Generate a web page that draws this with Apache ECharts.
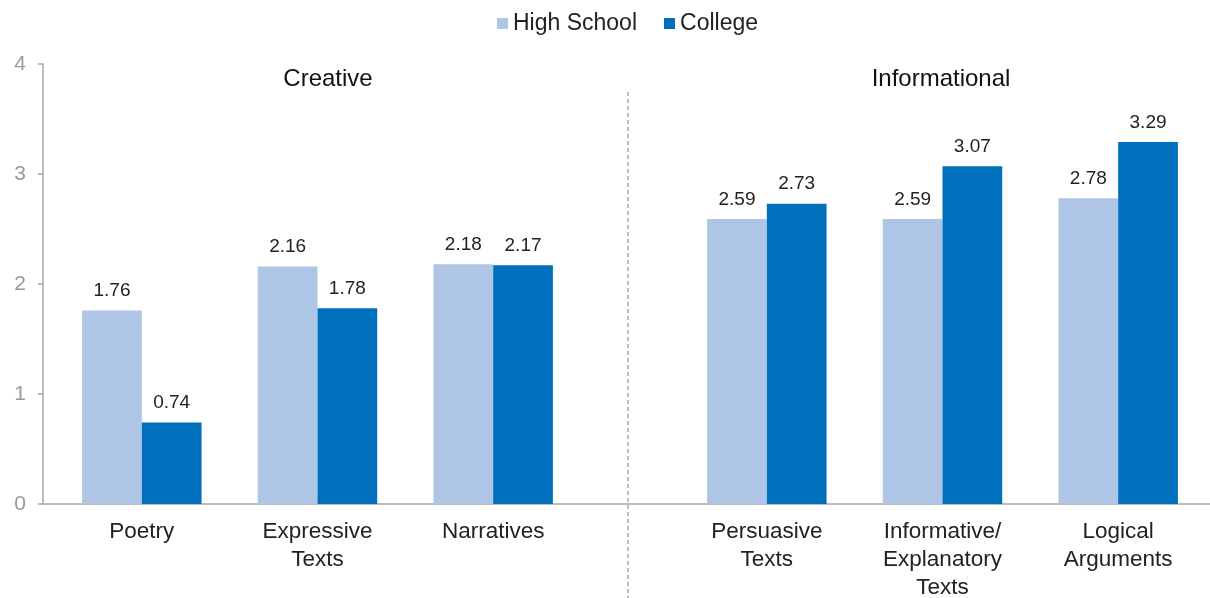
<!DOCTYPE html>
<html>
<head>
<meta charset="utf-8">
<script src="https://cdn.jsdelivr.net/npm/echarts@6/dist/echarts.min.js"></script>
<style>
html,body{margin:0;padding:0;background:#fff;}
#chart{width:1210px;height:598px;}
</style>
</head>
<body>
<div id="chart"></div>
<script>
const groupTitles = ['Creative', 'Informational'];
const creativeCategories = ['Poetry', 'Expressive\nTexts', 'Narratives'];
const informationalCategories = ['Persuasive\nTexts', 'Informative/\nExplanatory\nTexts', 'Logical\nArguments'];
const seriesNames = ['High School', 'College'];
const highSchoolCreative = [1.76, 2.16, 2.18];
const collegeCreative = [0.74, 1.78, 2.17];
const highSchoolInformational = [2.59, 2.59, 2.78];
const collegeInformational = [2.73, 3.07, 3.29];
const yTicks = [0, 1, 2, 3, 4];

const FONT = '"Liberation Sans", Arial, sans-serif';
const colors = ['#AFC5E6', '#0070BC'];
const chart = echarts.init(document.getElementById('chart'));

function barSeries(name, data, idx, color) {
  return {
    name: name, type: 'bar', xAxisIndex: idx, yAxisIndex: idx,
    data: data, barGap: '0%', barCategoryGap: '32%',
    itemStyle: {color: color},
    label: {show: true, position: 'top', distance: 10, fontSize: 19, color: '#222', fontFamily: FONT,
      formatter: p => p.value.toFixed(2)}
  };
}

const catAxis = (idx, cats) => ({
  type: 'category', gridIndex: idx, data: cats,
  axisLine: {show: false}, axisTick: {show: false},
  axisLabel: {fontSize: 22.5, color: '#222', fontFamily: FONT, lineHeight: 28, margin: 14, interval: 0}
});
const hiddenY = idx => ({type: 'value', gridIndex: idx, min: 0, max: 4, interval: 1, show: false, splitLine: {show: false}});

chart.setOption({
  animation: false,
  color: colors,
  legend: {
    data: seriesNames, top: 7, left: 492, itemWidth: 11, itemHeight: 11, itemGap: 27,
    icon: 'rect', textStyle: {fontSize: 23, color: '#222', fontFamily: FONT}
  },
  title: [
    {text: groupTitles[0], left: 323, top: 62, textAlign: 'center', textStyle: {fontSize: 24, fontWeight: 'normal', color: '#111', fontFamily: FONT}},
    {text: groupTitles[1], left: 936, top: 62, textAlign: 'center', textStyle: {fontSize: 24, fontWeight: 'normal', color: '#111', fontFamily: FONT}}
  ],
  grid: [
    {left: 43, right: 0, top: 64, bottom: 94, outerBoundsMode: 'none'},
    {left: 54, width: 527, top: 64, bottom: 94, outerBoundsMode: 'none'},
    {left: 679, width: 527, top: 64, bottom: 94, outerBoundsMode: 'none'}
  ],
  xAxis: [
    {type: 'value', gridIndex: 0, min: 0, max: 1, axisLine: {show: true, onZero: false, lineStyle: {color: '#A6A6A6', width: 1.5}},
      axisTick: {show: false}, axisLabel: {show: false}, splitLine: {show: false}},
    catAxis(1, creativeCategories),
    catAxis(2, informationalCategories)
  ],
  yAxis: [
    {type: 'value', gridIndex: 0, min: yTicks[0], max: yTicks[yTicks.length - 1], interval: 1,
      axisLine: {show: true, lineStyle: {color: '#A6A6A6', width: 1.5}},
      axisTick: {show: true, length: 5, lineStyle: {color: '#A6A6A6', width: 1.5}},
      axisLabel: {fontSize: 21, color: '#999', fontFamily: FONT, margin: 17},
      splitLine: {show: false}},
    hiddenY(1), hiddenY(2)
  ],
  series: [
    barSeries(seriesNames[0], highSchoolCreative, 1, colors[0]),
    barSeries(seriesNames[1], collegeCreative, 1, colors[1]),
    barSeries(seriesNames[0], highSchoolInformational, 2, colors[0]),
    barSeries(seriesNames[1], collegeInformational, 2, colors[1])
  ],
  graphic: [
    {type: 'line', shape: {x1: 628, y1: 92, x2: 628, y2: 598}, style: {stroke: '#A6A6A6', lineWidth: 1.5, lineDash: [4, 3]}, silent: true}
  ]
});
</script>
</body>
</html>
